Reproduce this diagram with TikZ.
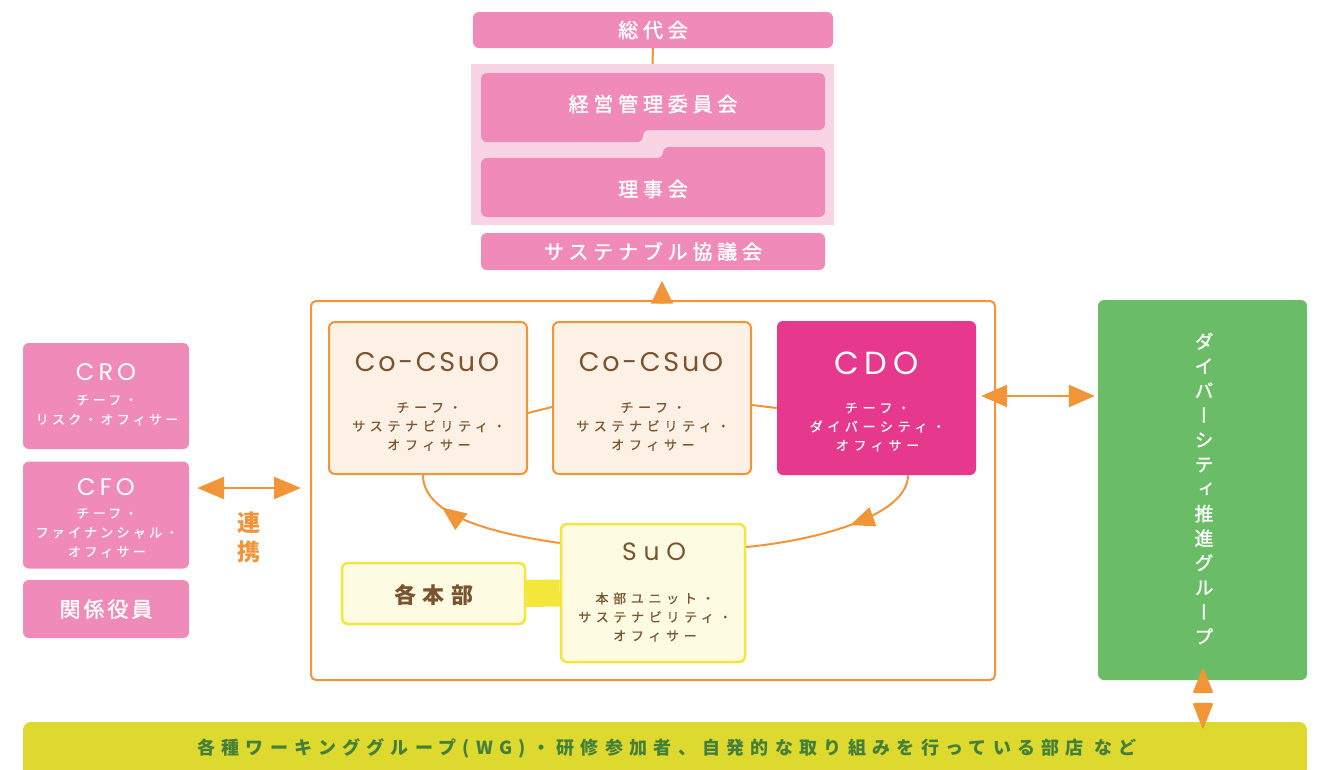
\documentclass[tikz,border=0pt]{standalone}
\usepackage{fontspec}
\setmainfont{Noto Sans CJK JP}
\newfontfamily\jpfont{Noto Sans CJK JP}
\newfontfamily\jpmed{Noto Sans CJK JP}[FakeBold=1.6]
\newfontfamily\jpsub{Noto Sans CJK JP}[FakeBold=0.8]
\newfontfamily\jpvert{Noto Sans CJK JP}[RawFeature=+vert,FakeBold=1.2]
\newfontfamily\latfont{Poppins}
\usetikzlibrary{arrows.meta,decorations.markings,calc}
\newcommand\fsz[1]{\fontsize{#1}{#1}\selectfont}
\newcommand\lsp[1]{\addfontfeatures{LetterSpace=#1}}
\definecolor{cpink}{HTML}{F08AB9}
\definecolor{cpinkbg}{HTML}{F8D4E5}
\definecolor{corange}{HTML}{F29539}
\definecolor{cbeige}{HTML}{FDF0E4}
\definecolor{cbrown}{HTML}{7A542E}
\definecolor{cmag}{HTML}{E6398E}
\definecolor{cyel}{HTML}{F3E73B}
\definecolor{cyelfill}{HTML}{FDFBE2}
\definecolor{cgreen}{HTML}{6ABD66}
\definecolor{colive}{HTML}{DDD92E}
\definecolor{cwg}{HTML}{45803A}
\begin{document}
\begin{tikzpicture}[x=1pt,y=-1pt,
  pinkbox/.style={fill=cpink, rounded corners=6, inner sep=0},
  ttl/.style={text=white, font=\jpmed\fsz{20}\lsp{24}, inner sep=0},
  cobox/.style={draw=corange, line width=2, fill=cbeige, rounded corners=6, minimum width=198, minimum height=152, inner sep=0},
  yelbox/.style={draw=cyel, line width=2.5, fill=cyelfill, rounded corners=6, inner sep=0},
  cotitle/.style={text=cbrown, font=\latfont\fsz{27}\lsp{10}, inner sep=0},
  subtxt/.style={font=\jpsub\fontsize{13}{18.7}\selectfont\lsp{36}, align=center, inner sep=0},
  whtitle/.style={text=white, font=\latfont\fsz{24}\lsp{17}, inner sep=0},
  flowline/.style={draw=corange, line width=2},
  midarrow/.style={postaction={decorate}, decoration={markings, mark=at position #1 with {\arrow{Triangle[length=24pt,width=20pt]}}}},
  dblarrow/.style={flowline, line width=2.5, {Triangle[length=27pt,width=22pt]}-{Triangle[length=27pt,width=22pt]}}
]
\clip (0,0) rectangle (1323,769);
\fill[white] (0,0) rectangle (1323,769);

% ---- top governance ----
\node[pinkbox, ttl, minimum width=360, minimum height=36] (soudai) at (653,30) {総代会};
\node[fill=cpinkbg, minimum width=363, minimum height=161, inner sep=0] (bg) at (652.5,144.5) {};
\draw[corange, line width=2] (soudai.south) -- (bg.north);
\fill[cpink, rounded corners=6] (481,73) -- (825,73) -- (825,130) -- (643,130) -- (643,142) -- (481,142) -- cycle;
\node[ttl] (keiei) at (653,104) {経営管理委員会};
\fill[cpink, rounded corners=6] (481,158) -- (663,158) -- (663,147) -- (825,147) -- (825,217) -- (481,217) -- cycle;
\node[ttl] (riji) at (653,189) {理事会};
\node[pinkbox, ttl, minimum width=344, minimum height=37] (suste) at (653,251.5) {サステナブル協議会};

% ---- central frame ----
\node[draw=corange, line width=2, rounded corners=5, minimum width=684, minimum height=379, inner sep=0] (frame) at (653,490.5) {};
\coordinate (sTip) at ($(suste.south)+(9,10.5)$);
\draw[flowline, -{Triangle[length=23pt,width=22pt]}] ($(frame.north)+(9,3)$) -- (sTip);

\node[cobox] (co1) at (428,398) {};
\node[cobox] (co2) at (652,398) {};
\node[fill=cmag, rounded corners=6, minimum width=199, minimum height=154, inner sep=0] (cdo) at (876.5,398) {};
\draw[flowline] ($(co1.east)+(0,15)$) -- ($(co2.west)+(0,9)$);
\draw[flowline] ($(co2.east)+(0,7)$) -- ($(cdo.west)+(0,10)$);

\node[cotitle] (co1T) at (427,362) {Co-CSuO};
\node[subtxt, text=cbrown] (co1S) at (429,426.5) {チーフ・\\サステナビリティ・\\オフィサー};
\node[cotitle] (co2T) at (651,362) {Co-CSuO};
\node[subtxt, text=cbrown] (co2S) at (653,426.5) {チーフ・\\サステナビリティ・\\オフィサー};
\node[text=white, font=\latfont\fsz{32}\lsp{18}, inner sep=0] (cdoT) at (876.5,363) {CDO};
\node[subtxt, text=white] (cdoS) at (877.5,427) {チーフ・\\ダイバーシティ・\\オフィサー};

\node[yelbox, minimum width=184, minimum height=138] (suo) at (653,593) {};
\node[yelbox, minimum width=183, minimum height=61] (honbu) at (433.5,593.5) {};
\draw[cyel, line width=27] (honbu.east) -- (suo.west);
\node[text=cbrown, font=\jpfont\bfseries\fsz{22}\lsp{30}, inner sep=0] (honbuT) at (434,595) {各本部};
\node[text=cbrown, font=\latfont\fsz{25}\lsp{27}, inner sep=0] (suoT) at (654,552) {SuO};
\node[subtxt, text=cbrown] (suoS) at (655,617) {本部ユニット・\\サステナビリティ・\\オフィサー};

\draw[flowline, midarrow=0.76] ($(suo.west)+(0,-50)$) .. controls (490,533) and (423,515) .. ($(co1.south)+(-5,0)$);
\draw[flowline, midarrow=0.43] ($(cdo.south)+(31.5,0)$) .. controls (908,515) and (820,540) .. ($(suo.east)+(0,-46)$);

% ---- left column ----
\node[pinkbox, minimum width=166, minimum height=106] (cro) at (106,396) {};
\node[whtitle] (croT) at (106,372) {CRO};
\node[subtxt, text=white, font=\jpsub\fontsize{13}{19.5}\selectfont\lsp{25}] (croS) at (107,410) {チーフ・\\リスク・オフィサー};
\node[pinkbox, minimum width=166, minimum height=107] (cfo) at (106,515) {};
\node[whtitle] (cfoT) at (106,487) {CFO};
\node[subtxt, text=white, font=\jpsub\fontsize{13}{19.2}\selectfont\lsp{25}] (cfoS) at (107,532.8) {チーフ・\\ファイナンシャル・\\オフィサー};
\node[pinkbox, minimum width=166, minimum height=58, text=white, font=\jpmed\fsz{21}\lsp{14}] (kankei) at (106,609) {関係役員};

\draw[dblarrow] ($(cfo.east)+(8,-27)$) -- ($(frame.west |- cfo.east)+(-9,-27)$);
\node[text=corange, font=\jpfont\bfseries\fontsize{23}{29}\selectfont, align=center, inner sep=0] (renkei) at (249,537.5) {連\\携};

% ---- right column ----
\node[fill=cgreen, rounded corners=6, minimum width=209, minimum height=380, inner sep=0] (green) at (1202.5,490) {};
\node[text=white, font=\jpvert\fontsize{19}{24.6}\selectfont, align=center, inner sep=0] (greenT) at (1204,488.5) {ダ\\イ\\バ\\ー\\シ\\テ\\ィ\\推\\進\\グ\\ル\\ー\\プ};
\draw[dblarrow, {Triangle[length=26pt,width=22pt]}-{Triangle[length=26pt,width=22pt]}] ($(cdo.east)+(5,-2)$) -- ($(green.west |- cdo.east)+(-3,-2)$);

% ---- bottom bar ----
\node[fill=colive, rounded corners=8, minimum width=1284, minimum height=60, inner sep=0] (wg) at (665,752) {};
\node[text=cwg, font=\jpfont\bfseries\fsz{18}\lsp{35}, inner sep=0] (wgT) at (667,748) {各種ワーキンググループ(WG)・研修参加者、自発的な取り組みを行っている部店 など};
\coordinate (gUp) at ($(green.south)+(0.5,-13)$);
\coordinate (wDn) at ($(wg.north)+(538,8)$);
\fill[corange, rounded corners=1.5] (gUp) -- ++(10.5,26) -- ++(-21,0) -- cycle;
\fill[corange, rounded corners=1.5] (wDn) -- ++(10.5,-27) -- ++(-21,0) -- cycle;
\end{tikzpicture}
\end{document}
